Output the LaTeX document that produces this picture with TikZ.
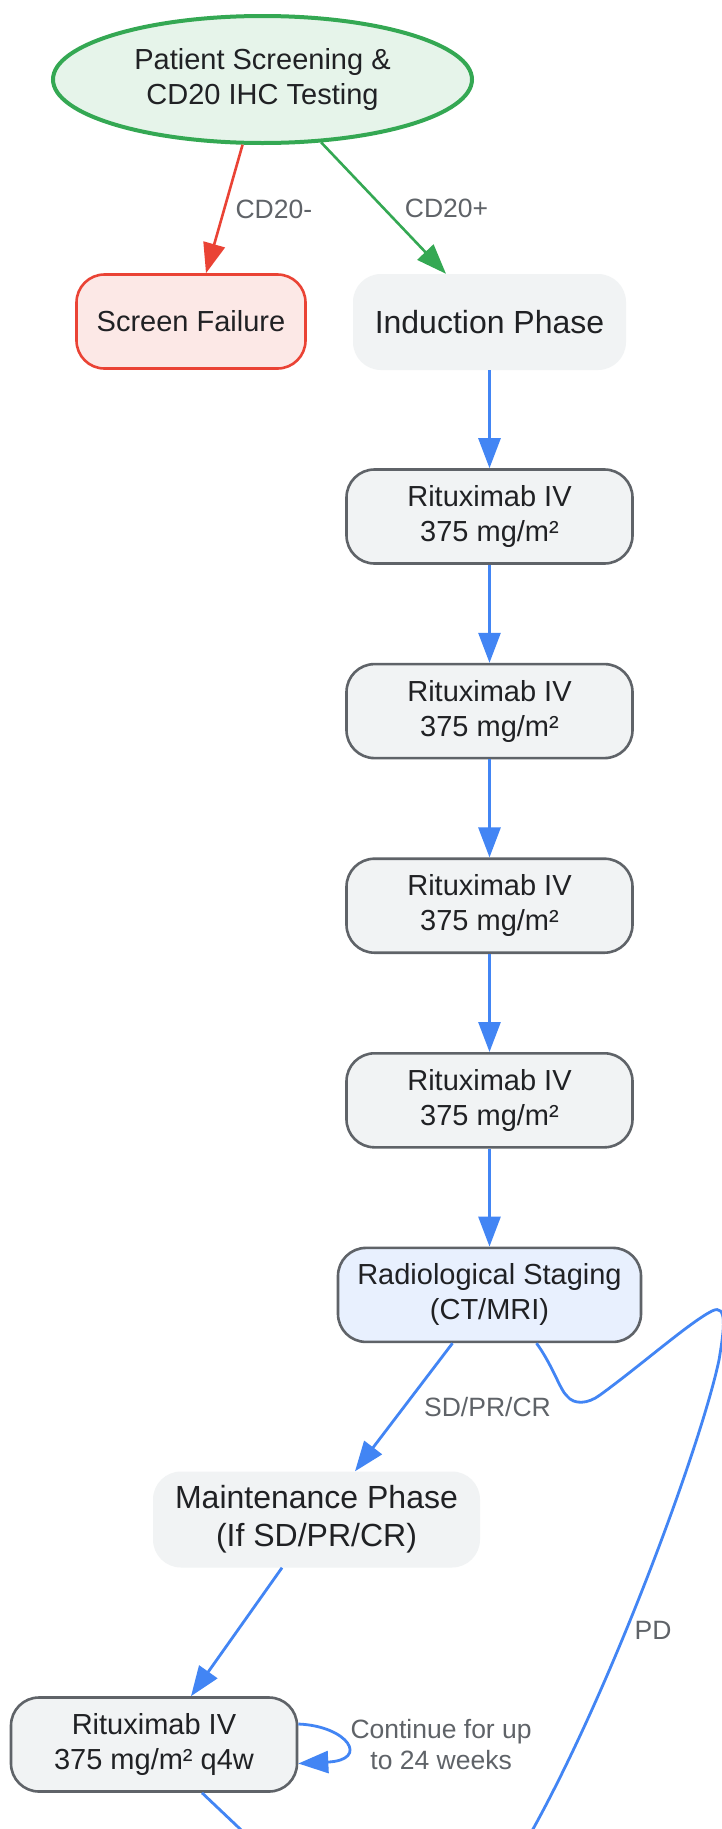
\documentclass[tikz,border=0pt]{standalone}
\usepackage{fontspec}
\setmainfont{Liberation Sans}
\usetikzlibrary{shapes.geometric,arrows.meta,positioning,calc}
\definecolor{ink}{HTML}{202124}
\definecolor{label-gray}{HTML}{5F6368}
\definecolor{box-gray}{HTML}{5F6368}
\definecolor{soft-gray}{HTML}{F1F3F4}
\definecolor{flow-blue}{HTML}{4285F4}
\definecolor{soft-blue}{HTML}{E8F0FE}
\definecolor{pass-green}{HTML}{34A853}
\definecolor{soft-green}{HTML}{E6F4EA}
\definecolor{fail-red}{HTML}{EA4335}
\definecolor{soft-red}{HTML}{FCE8E6}
\tikzset{
    base-box/.style = {rectangle, rounded corners=28pt, minimum height=94pt, inner sep=0pt, align=center, text=ink, font=\fontsize{29}{35}\selectfont},
    dose-box/.style = {base-box, draw=box-gray, fill=soft-gray, line width=2.6pt, minimum width=286pt},
    phase-box/.style = {base-box, fill=soft-gray, minimum height=96pt, font=\fontsize{32}{38}\selectfont},
    staging-box/.style = {base-box, draw=box-gray, fill=soft-blue, line width=2.6pt, minimum width=303pt},
    fail-box/.style = {base-box, draw=fail-red, fill=soft-red, line width=2.6pt, minimum width=229pt},
    screen-ellipse/.style = {ellipse, draw=pass-green, fill=soft-green, line width=4pt, minimum width=419pt, minimum height=127pt, inner sep=0pt, align=center, text=ink, font=\fontsize{29}{35}\selectfont},
    flow-arrow/.style = {draw=flow-blue, line width=2.8pt, -{Triangle[length=30pt,width=22pt]}},
    edge-label/.style = {text=label-gray, align=center, inner sep=0pt, font=\fontsize{26.5}{31.5}\selectfont},
}
\begin{document}
\begin{tikzpicture}[x=1pt, y=-1pt]
\useasboundingbox[fill=white] (0,0) rectangle (721,1829);

\node[screen-ellipse] (screen) at (262.5,79.5) {Patient Screening \&\\CD20 IHC Testing};
\node[fail-box] (fail) at (191,321.5) {Screen Failure};
\node[phase-box, minimum width=273pt] (induct) at (489.5,322) {Induction Phase};

% induction doses
\node[dose-box, below=98pt of induct] (dose1) {Rituximab IV\\375 mg/m²};
\node[dose-box, below=98pt of dose1] (dose2) {Rituximab IV\\375 mg/m²};
\node[dose-box, below=98pt of dose2] (dose3) {Rituximab IV\\375 mg/m²};
\node[dose-box, below=98pt of dose3] (dose4) {Rituximab IV\\375 mg/m²};
\node[staging-box, below=98pt of dose4] (staging) {Radiological Staging\\(CT/MRI)};

\node[phase-box, minimum width=327pt] (maint) at (316.5,1519.5) {Maintenance Phase\\(If SD/PR/CR)};
\node[dose-box] (q4w) at (154,1744.5) {Rituximab IV\\375 mg/m² q4w};
\node[edge-label, right=52pt of q4w] (loop-label) {Continue for up\\to 24 weeks};
\node[edge-label] (pd-label) at (653,1630) {PD};

% ends below the page
\coordinate (follow-a) at (315,1900);
\coordinate (follow-b) at (500,1885);

\draw[flow-arrow, draw=fail-red, line width=2.6pt] (screen.253) -- ($(fail.north)+(15,0)$)
    node[edge-label, pos=.5, right=10pt] (neg-label) {CD20-};
\draw[flow-arrow, draw=pass-green, line width=2.6pt] (screen.313) -- ($(induct.north)+(-43.5,0)$)
    node[edge-label, pos=.5, right=20pt] (pos-label) {CD20+};
\draw[flow-arrow] (induct) -- (dose1);
\draw[flow-arrow] (dose1) -- (dose2);
\draw[flow-arrow] (dose2) -- (dose3);
\draw[flow-arrow] (dose3) -- (dose4);
\draw[flow-arrow] (dose4) -- (staging);
\draw[flow-arrow] ($(staging.south)+(-37,0)$) -- ($(maint.north)+(38.5,0)$)
    node[edge-label, pos=.5, right=19pt] (resp-label) {SD/PR/CR};
\draw[flow-arrow] ($(staging.south)+(47,0)$) .. controls (553,1366) and (560,1390) .. (567,1396)
    .. controls (574,1405) and (588,1404) .. (600,1395)
    .. controls (640,1366) and (690,1322) .. (712,1311)
    .. controls (728,1303) and (724,1330) .. (719,1360)
    .. controls (700,1450) and (600,1720) .. (follow-b);
\draw[flow-arrow] ($(maint.south)+(-34.5,0)$) -- ($(q4w.north)+(37,0)$);
\draw[flow-arrow] ($(q4w.east)+(0,-20.5)$) .. controls (348,1726) and (370,1760) .. ($(q4w.east)+(0,19)$);
\draw[flow-arrow] ($(q4w.south)+(48,0)$) -- (follow-a);
\end{tikzpicture}
\end{document}
